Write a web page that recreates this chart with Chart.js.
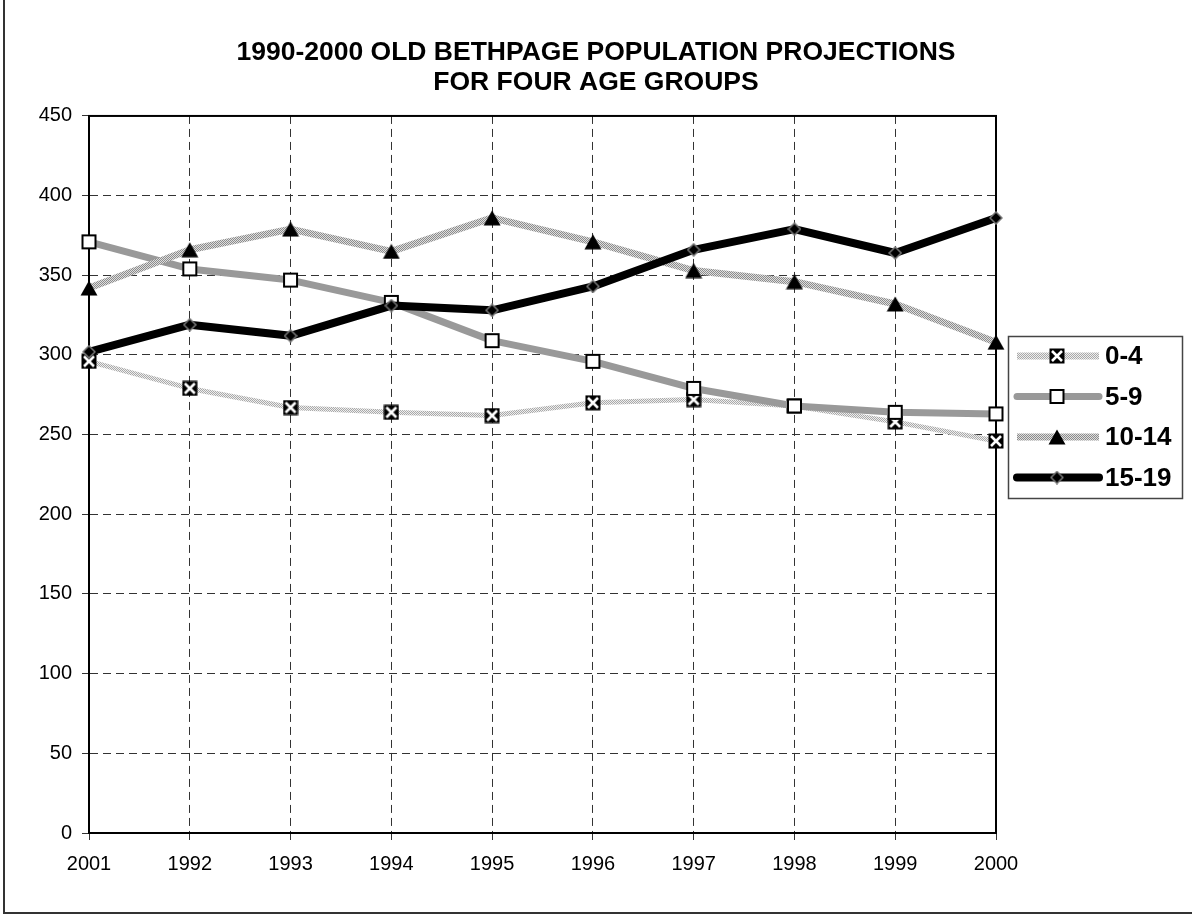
<!DOCTYPE html>
<html>
<head>
<meta charset="utf-8">
<title>Old Bethpage Population Projections</title>
<script src="https://cdn.jsdelivr.net/npm/chart.js@4.4.1/dist/chart.umd.min.js"></script>
<style>
  html, body { margin: 0; padding: 0; background: #fff; }
  #wrap { width: 1192px; height: 915px; }
</style>
</head>
<body>
<div id="wrap"><canvas id="popChart" width="1192" height="915"></canvas></div>
<script>
const years = ['2001', '1992', '1993', '1994', '1995', '1996', '1997', '1998', '1999', '2000'];
const ages0to4 = [296, 279, 267, 264, 262, 270, 272, 268, 258, 246];
const ages5to9 = [371, 354, 347, 333, 309, 296, 279, 268, 264, 263];
const ages10to14 = [342, 366, 379, 365, 386, 371, 353, 346, 332, 308];
const ages15to19 = [302, 319, 312, 331, 328, 343, 366, 379, 364, 386];
const yTicks = [0, 50, 100, 150, 200, 250, 300, 350, 400, 450];

const FONT = '"Liberation Sans", Arial, Helvetica, sans-serif';

// small checker pattern for the stippled grey lines
function stipple(dark, light) {
  const c = document.createElement('canvas');
  c.width = 2; c.height = 2;
  const g = c.getContext('2d');
  g.fillStyle = light; g.fillRect(0, 0, 2, 2);
  g.fillStyle = dark; g.fillRect(0, 0, 1, 1); g.fillRect(1, 1, 1, 1);
  return g.createPattern(c, 'repeat');
}

function makeMarker(w, h, draw) {
  const c = document.createElement('canvas');
  c.width = w; c.height = h;
  draw(c.getContext('2d'), w, h);
  return c;
}

const crossBox = makeMarker(16, 16, (g) => {
  g.fillStyle = '#000';
  g.fillRect(0.5, 0.5, 15, 15);
  g.strokeStyle = '#fff';
  g.lineWidth = 2.6;
  g.beginPath();
  g.moveTo(3, 3); g.lineTo(13, 13);
  g.moveTo(13, 3); g.lineTo(3, 13);
  g.stroke();
});

const openSquare = makeMarker(17, 17, (g) => {
  g.fillStyle = '#fff';
  g.fillRect(1, 1, 15, 15);
  g.strokeStyle = '#000';
  g.lineWidth = 2;
  g.strokeRect(2, 2, 13, 13);
});

const triangle = makeMarker(18, 16, (g) => {
  g.fillStyle = '#000';
  g.beginPath();
  g.moveTo(9, 0.5); g.lineTo(17.5, 15.5); g.lineTo(0.5, 15.5);
  g.closePath();
  g.fill();
});

const diamond = makeMarker(14, 14, (g) => {
  g.fillStyle = '#000';
  g.strokeStyle = '#777';
  g.lineWidth = 1.5;
  g.beginPath();
  g.moveTo(7, 1); g.lineTo(13, 7); g.lineTo(7, 13); g.lineTo(1, 7);
  g.closePath();
  g.fill(); g.stroke();
});

const lightStipple = stipple('#a9a9a9', '#eeeeee');
const darkStipple = stipple('#8c8c8c', '#dedede');

function series(label, data, color, width, marker, order, cap) {
  return {
    label: label,
    data: data,
    borderColor: color,
    borderWidth: width,
    borderCapStyle: cap || 'butt',
    borderJoinStyle: 'round',
    pointStyle: marker,
    pointRadius: 7,
    tension: 0,
    fill: false,
    clip: false,
    order: order
  };
}

// outer frame + plot-area box
const framePlugin = {
  id: 'frame',
  beforeDraw(chart) {
    const ctx = chart.ctx;
    ctx.save();
    ctx.fillStyle = '#fff';
    ctx.fillRect(0, 0, chart.width, chart.height);
    ctx.strokeStyle = '#333';
    ctx.lineWidth = 2;
    ctx.beginPath();
    ctx.moveTo(4, 0); ctx.lineTo(4, 913); ctx.lineTo(chart.width, 913);
    ctx.stroke();
    ctx.restore();
  },
  beforeDatasetsDraw(chart) {
    const a = chart.chartArea;
    const ctx = chart.ctx;
    ctx.save();
    ctx.strokeStyle = '#000';
    ctx.lineWidth = 2;
    ctx.strokeRect(a.left, a.top, a.right - a.left, a.bottom - a.top);
    ctx.restore();
  }
};

// boxed legend with line sample and marker, right of the plot
const boxLegend = {
  id: 'boxLegend',
  afterDraw(chart) {
    const ctx = chart.ctx;
    const box = { x: 1008, y: 336, w: 174, h: 162 };
    ctx.save();
    ctx.fillStyle = '#fff';
    ctx.fillRect(box.x, box.y, box.w, box.h);
    ctx.strokeStyle = '#444';
    ctx.lineWidth = 1.5;
    ctx.strokeRect(box.x + 0.5, box.y + 0.5, box.w, box.h);
    chart.data.datasets.forEach((ds, i) => {
      const y = 356 + i * 40.5;
      ctx.strokeStyle = ds.borderColor;
      ctx.lineWidth = Math.max(ds.borderWidth, 7);
      ctx.lineCap = ds.borderCapStyle;
      ctx.beginPath();
      ctx.moveTo(1017, y); ctx.lineTo(1099, y);
      ctx.stroke();
      const m = ds.pointStyle;
      ctx.drawImage(m, 1057 - m.width / 2, y - m.height / 2);
      ctx.fillStyle = '#000';
      ctx.font = 'bold 26px ' + FONT;
      ctx.textBaseline = 'middle';
      ctx.textAlign = 'left';
      ctx.fillText(ds.label, 1105, y + 1);
    });
    ctx.restore();
  }
};

const ctx = document.getElementById('popChart').getContext('2d');
new Chart(ctx, {
  type: 'line',
  data: {
    labels: years,
    datasets: [
      series('0-4', ages0to4, lightStipple, 5, crossBox, 3),
      series('5-9', ages5to9, '#999999', 7, openSquare, 2, 'round'),
      series('10-14', ages10to14, darkStipple, 7, triangle, 1),
      series('15-19', ages15to19, '#000000', 8, diamond, 0, 'round')
    ]
  },
  options: {
    responsive: false,
    animation: false,
    layout: { padding: 0 },
    plugins: {
      legend: { display: false },
      tooltip: { enabled: false },
      title: {
        display: true,
        text: ['1990-2000 OLD BETHPAGE POPULATION PROJECTIONS', 'FOR FOUR AGE GROUPS'],
        color: '#000',
        font: { family: FONT, size: 26.5, weight: 'bold', lineHeight: 1.15 },
        padding: { top: 37, bottom: 18 }
      }
    },
    scales: {
      x: {
        afterFit(scale) { scale.height = 82; },
        grid: {
          color: '#333',
          lineWidth: 1,
          tickLength: 7,
          tickColor: '#333',
          offset: false
        },
        border: { display: true, color: '#000', width: 2, dash: [8, 5] },
        ticks: {
          color: '#000',
          padding: 12,
          maxRotation: 0,
          font: { family: FONT, size: 20 }
        }
      },
      y: {
        min: 0,
        max: 450,
        afterFit(scale) { scale.width = 89; },
        afterBuildTicks(scale) { scale.ticks = yTicks.map(v => ({ value: v })); },
        grid: {
          color: '#333',
          lineWidth: 1,
          tickLength: 7,
          tickColor: '#333'
        },
        border: { display: true, color: '#000', width: 2, dash: [8, 5] },
        ticks: {
          color: '#000',
          padding: 10,
          font: { family: FONT, size: 20 }
        }
      },
      // empty right-hand axis: reserves the strip where the legend box sits
      legendStrip: {
        type: 'linear',
        position: 'right',
        afterFit(scale) { scale.width = 196; },
        grid: { display: false },
        border: { display: false },
        ticks: { display: false }
      }
    }
  },
  plugins: [framePlugin, boxLegend]
});
</script>
</body>
</html>
